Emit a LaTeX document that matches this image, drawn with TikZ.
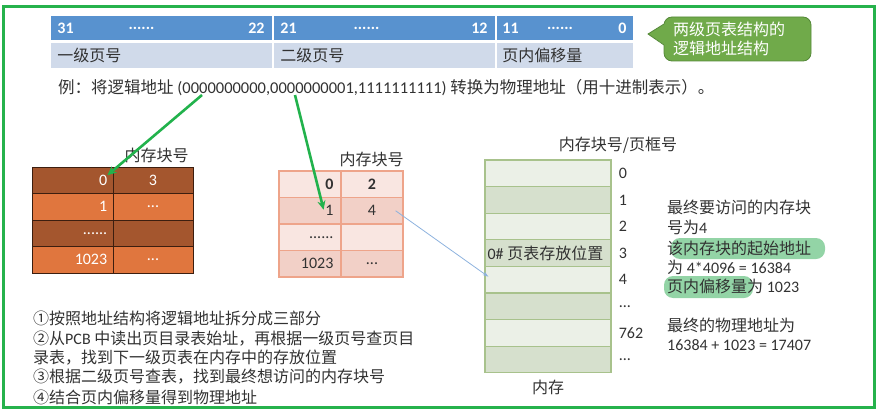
\documentclass[tikz,border=0pt]{standalone}
\usepackage{fontspec}
\setmainfont{Carlito}
\newfontfamily\cjkfont{Noto Sans CJK SC}
\usetikzlibrary{arrows.meta}

\definecolor{framegreen}{RGB}{38,178,76}
\definecolor{hblue}{RGB}{88,146,207}
\definecolor{hlight}{RGB}{208,218,234}
\definecolor{callfill}{RGB}{112,170,74}
\definecolor{calldraw}{RGB}{84,136,56}
\definecolor{bdark}{RGB}{164,86,46}
\definecolor{borange}{RGB}{224,118,62}
\definecolor{bline}{RGB}{60,30,15}
\definecolor{plight}{RGB}{249,230,225}
\definecolor{pdark}{RGB}{242,208,199}
\definecolor{pline}{RGB}{238,164,138}
\definecolor{mlight}{RGB}{235,240,231}
\definecolor{mdark}{RGB}{214,224,205}
\definecolor{mline}{RGB}{168,194,140}
\definecolor{arrowgreen}{RGB}{34,178,76}
\definecolor{arrowblue}{RGB}{141,178,222}
\definecolor{hlgreen}{RGB}{128,204,150}
\definecolor{txt}{RGB}{50,50,50}

\newcommand\tdots{...}
\newcommand\sdots{......}

\tikzset{
  cell/.style={inner sep=0, minimum height=26.5},
  hcell/.style={cell, draw=white, line width=1.5, minimum height=26},
  lcell/.style={cell, draw=bline, line width=0.8},
  pcell/.style={cell, draw=pline, line width=1.2},
  mcell/.style={inner sep=0, draw=mline, line width=1.2, minimum width=126, minimum height=26.6},
  txtlabel/.style={inner sep=0, text=txt},
  zh/.style={txtlabel, font=\fontsize{16}{19}\selectfont\cjkfont},
  gopen/.style={draw=arrowgreen, line width=2.6, -{Stealth[length=9pt,width=8pt]}},
  bopen/.style={draw=arrowblue, line width=0.8, -{Stealth[length=6pt,width=4pt]}},
  hl/.style={fill=hlgreen, fill opacity=0.85, rounded corners=9},
}

\begin{document}
\begin{tikzpicture}[x=1pt,y=-1pt,font=\fontsize{16}{19}\selectfont]
\useasboundingbox (0,0) rectangle (882,414);

% outer frame
\draw[framegreen, line width=3] (3,7) rectangle (874,407);

% logical address layout
\node[hcell, fill=hblue, minimum width=223] (h1) at (161.5,28) {};
\node[hcell, fill=hblue, minimum width=223] (h2) at (384.5,28) {};
\node[hcell, fill=hblue, minimum width=138] (h3) at (565,28) {};
\node[hcell, fill=hlight, minimum width=223] (f1) at (161.5,55.5) {};
\node[hcell, fill=hlight, minimum width=223] (f2) at (384.5,55.5) {};
\node[hcell, fill=hlight, minimum width=138] (f3) at (565,55.5) {};
\begin{scope}[every node/.style={inner sep=0, text=white, font=\fontsize{16}{19}\selectfont\bfseries}]
  \node[anchor=west] at ([xshift=8]h1.west) {31};
  \node at ([xshift=-20]h1.center) {\sdots};
  \node[anchor=east] at ([xshift=-9]h1.east) {22};
  \node[anchor=west] at ([xshift=8]h2.west) {21};
  \node at ([xshift=-18]h2.center) {\sdots};
  \node[anchor=east] at ([xshift=-9]h2.east) {12};
  \node[anchor=west] at ([xshift=7]h3.west) {11};
  \node at ([xshift=-5]h3.center) {\sdots};
  \node[anchor=east] at ([xshift=-8]h3.east) {0};
\end{scope}
\node[zh, anchor=west] (t1) at ([xshift=8]f1.west) {一级页号};
\node[zh, anchor=west] (t2) at ([xshift=8]f2.west) {二级页号};
\node[zh, anchor=west] (t3) at ([xshift=7]f3.west) {页内偏移量};

% callout
\fill[callfill, draw=calldraw, line width=0.8, rounded corners=8] (664,17) rectangle (811,61);
\fill[callfill] (648,34) -- (666,23) -- (666,46) -- cycle;
\draw[calldraw, line width=0.8] (664,24) -- (648,34) -- (664,45);
\node[inner sep=0, anchor=west, text=white, font=\fontsize{16}{19}\selectfont\cjkfont, align=left] (call) at (673,38.5) {两级页表结构的\\逻辑地址结构};

% example
\node[txtlabel, anchor=west, font=\fontsize{16.5}{19}\selectfont] (ex) at (58,88)
  {{\cjkfont 例：将逻辑地址} (0000000000,0000000001,1111111111) {\cjkfont 转换为物理地址（用十进制表示）。}};

% page directory
\node[zh] (lt) at (156.5,155) {内存块号};
\foreach \r/\na/\nb/\fc in {0/0/3/bdark,1/1/\tdots/borange,2/\sdots/{}/bdark,3/1023/\tdots/borange}{
  \node[lcell, fill=\fc, minimum width=81] (la\r) at (72.5,180.25+\r*26.5) {};
  \node[lcell, fill=\fc, minimum width=80] (lb\r) at (153,180.25+\r*26.5) {};
  \node[inner sep=0, text=white, anchor=east] at ([xshift=-6]la\r.east) {\na};
  \node[inner sep=0, text=white] at (lb\r) {\nb};
}

% second-level page table
\node[zh] (pt) at (371.5,159) {内存块号};
\foreach \r/\na/\nb/\fc/\fw in {0/0/2/plight/\bfseries,1/1/4/pdark/{},2/\sdots/{}/plight/{},3/1023/\tdots/pdark/{}}{
  \node[pcell, fill=\fc, minimum width=62] (pa\r) at (310,184.25+\r*26.5) {};
  \node[pcell, fill=\fc, minimum width=62] (pb\r) at (372,184.25+\r*26.5) {};
  \node[txtlabel, anchor=east, font=\fontsize{16}{19}\selectfont\fw] at ([xshift=-8]pa\r.east) {\na};
  \node[txtlabel, font=\fontsize{16}{19}\selectfont\fw] at (pb\r) {\nb};
}

% main memory
\node[zh] (mt) at (618,145) {内存块号/页框号};
\foreach \r/\fc/\lab in {0/mlight/0,1/mdark/1,2/mlight/2,3/mdark/3,4/mlight/4,5/mdark/\tdots,6/mlight/762,7/mdark/\tdots}{
  \node[mcell, fill=\fc] (m\r) at (548,173.3+\r*26.6) {};
  \node[txtlabel, anchor=west] at ([xshift=7]m\r.east) {\lab};
}
\node[txtlabel, anchor=west] (m3t) at ([xshift=3]m3.west) {0\# {\cjkfont 页表存放位置}};
\node[zh] (mb) at (548,387) {内存};

% arrows
\coordinate (g1) at (202,95);
\coordinate (g2) at (295,95);
\draw[gopen] (g1) -- ([shift={(-6,-5)}]la0.east);
\draw[gopen] (g2) -- ([shift={(-18,-1)}]pa1.east);
\draw[bopen] ([xshift=-8]pb1.east) -- ([shift={(4,-3)}]m4.west);

% highlights
\path[hl] (671,238) rectangle (825,259);
\path[hl] (664,276) rectangle (753,298);

% result notes
\begin{scope}[every node/.style={txtlabel, anchor=west}]
  \node (r1) at (667,207) {\cjkfont 最终要访问的内存块};
  \node (r2) at (667,227) {{\cjkfont 号为}4};
  \node (r3) at (667,248) {\cjkfont 该内存块的起始地址};
  \node (r4) at (667,267) {{\cjkfont 为} 4*4096 = 16384};
  \node (r5) at (667,286) {{\cjkfont 页内偏移量为} 1023};
  \node (r6) at (667,325) {\cjkfont 最终的物理地址为};
  \node (r7) at (667,345) {16384 + 1023 = 17407};
\end{scope}

% steps
\begin{scope}[every node/.style={txtlabel, anchor=west}]
  \node (s1) at (33,318) {\cjkfont ①按照地址结构将逻辑地址拆分成三部分};
  \node (s2) at (33,339) {{\cjkfont ②从}PCB {\cjkfont 中读出页目录表始址，再根据一级页号查页目}};
  \node (s3) at (33,358) {\cjkfont 录表，找到下一级页表在内存中的存放位置};
  \node (s4) at (33,377) {\cjkfont ③根据二级页号查表，找到最终想访问的内存块号};
  \node (s5) at (33,397) {\cjkfont ④结合页内偏移量得到物理地址};
\end{scope}
\end{tikzpicture}
\end{document}
